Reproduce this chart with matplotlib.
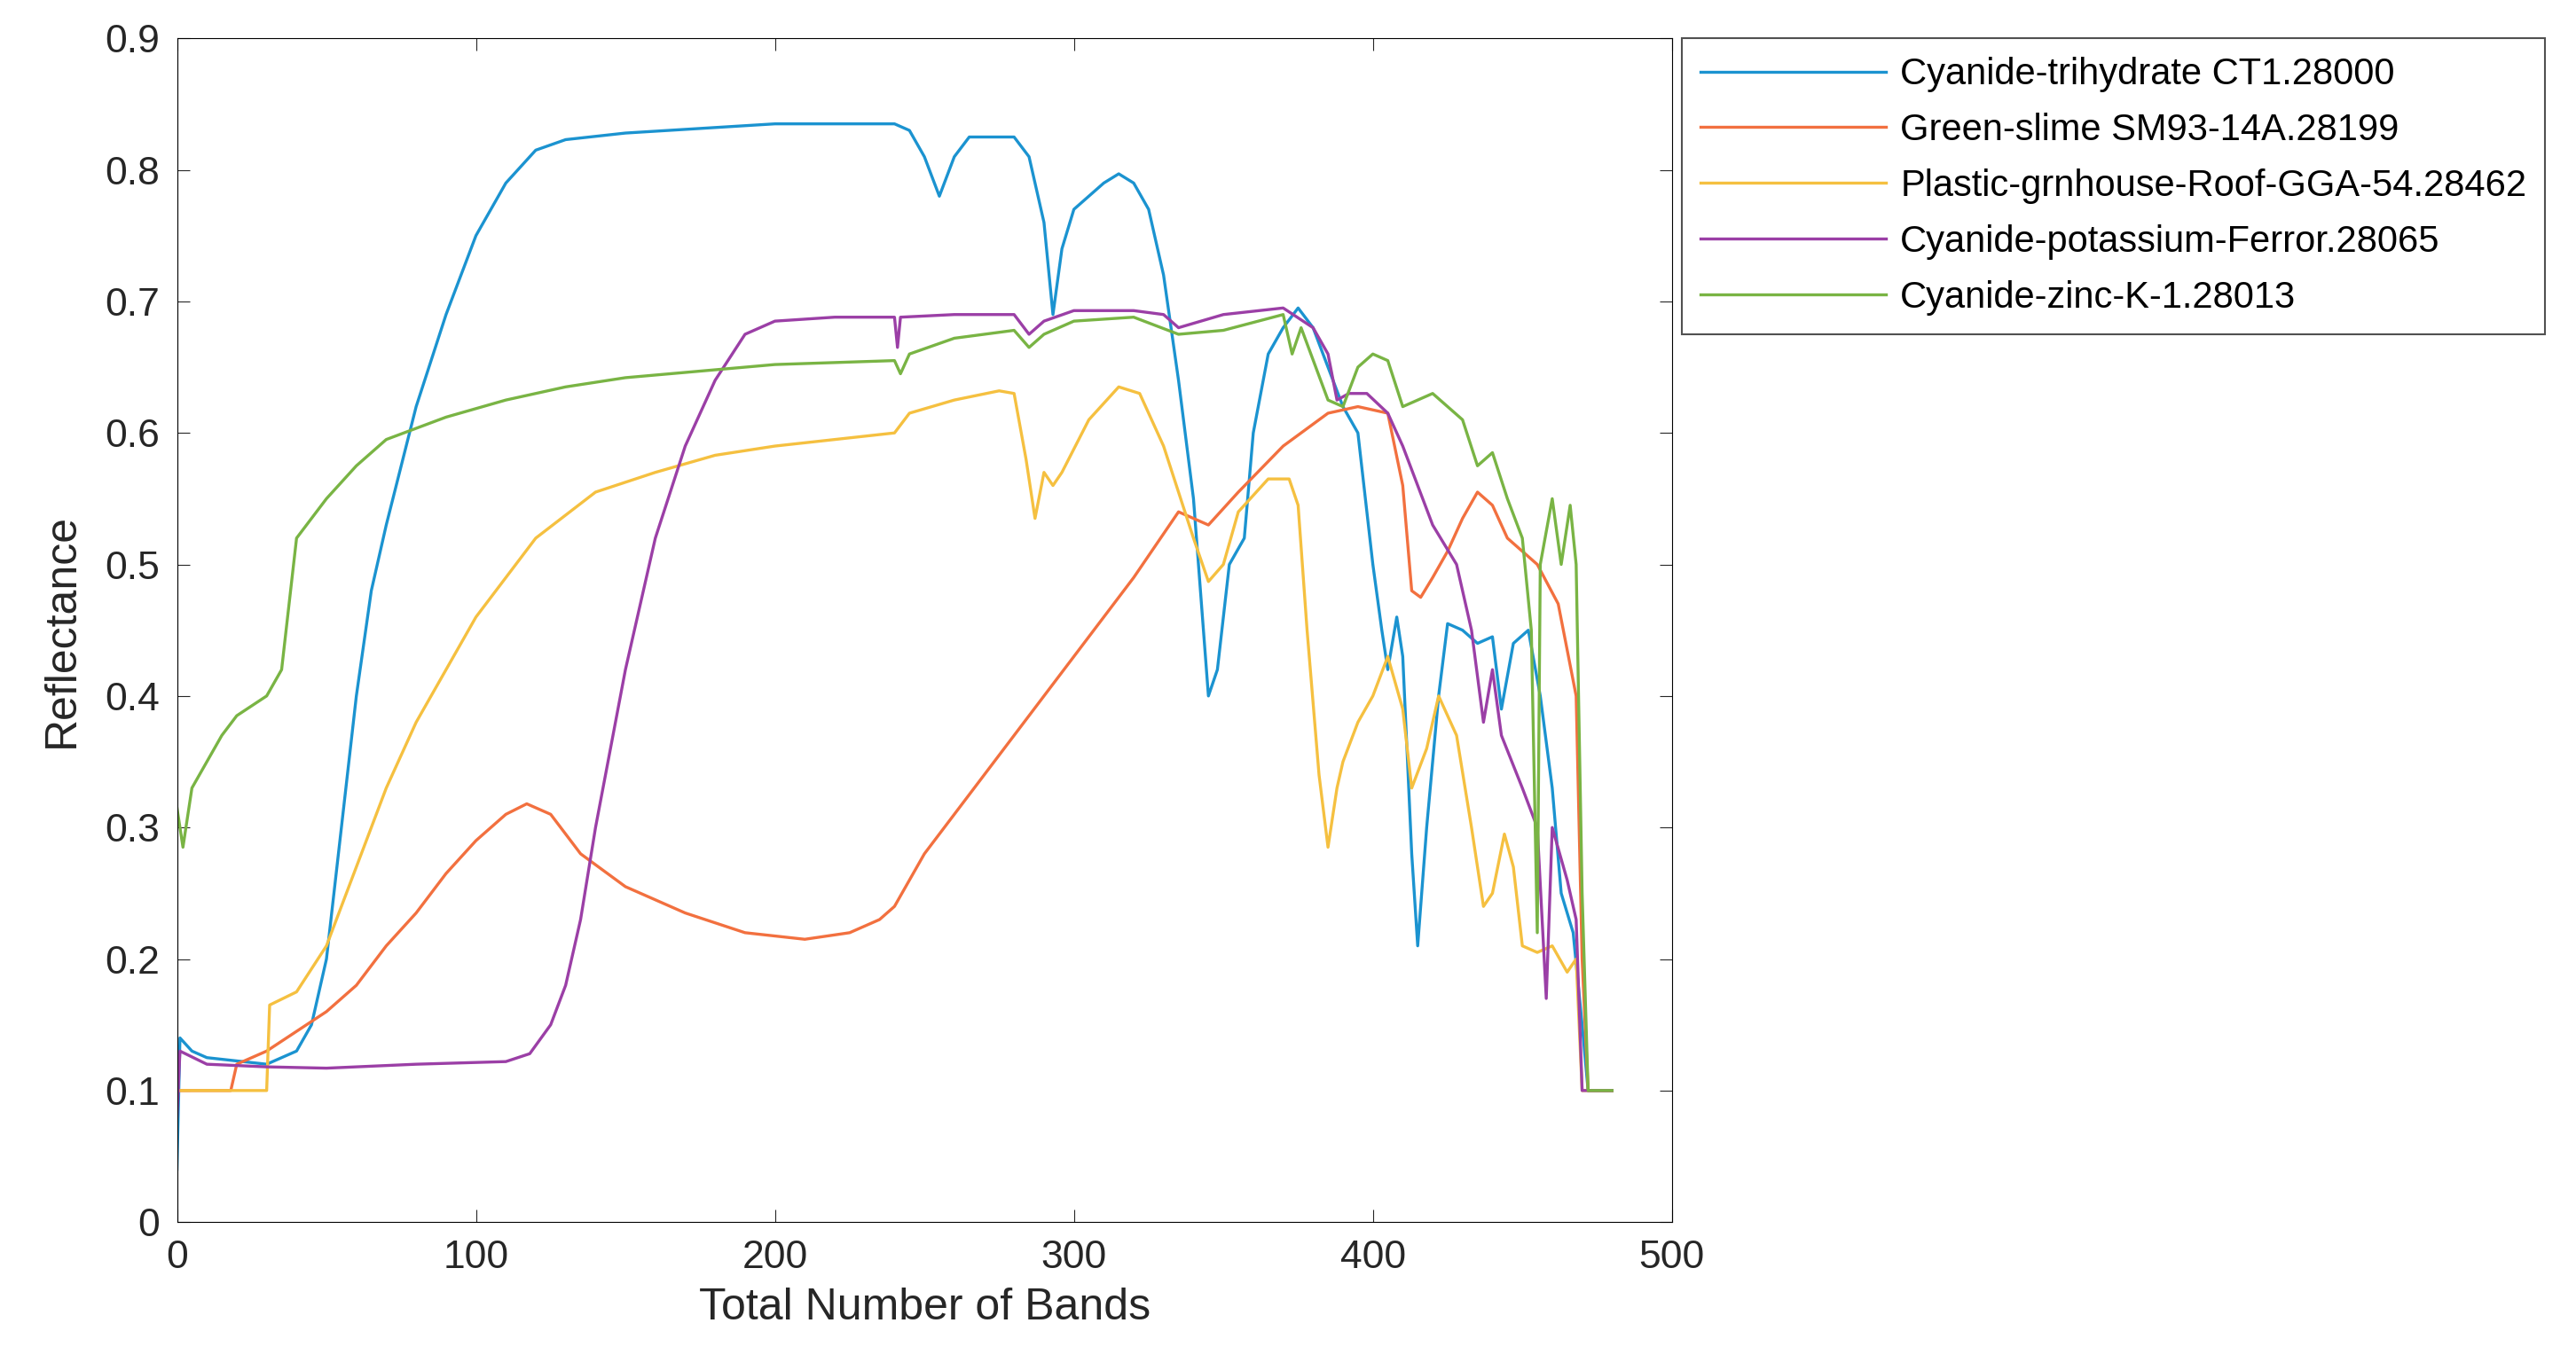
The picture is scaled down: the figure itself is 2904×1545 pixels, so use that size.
import matplotlib
matplotlib.use("Agg")
import matplotlib.pyplot as plt

plt.rcParams['font.family'] = ['Liberation Sans', 'DejaVu Sans']

names = ["Cyanide-trihydrate CT1.28000", "Green-slime SM93-14A.28199",
         "Plastic-grnhouse-Roof-GGA-54.28462", "Cyanide-potassium-Ferror.28065",
         "Cyanide-zinc-K-1.28013"]
colors = ['#1b93d0', '#f2703f', '#f5c040', '#9b3fa6', '#79b444']

blue_x = [0,1,5,10,30,40,45,50,55,60,65,70,80,90,100,110,120,130,150,200,240,245,250,255,260,265,280,285,290,293,296,300,310,315,320,325,330,335,340,345,348,352,357,360,365,370,375,380,385,390,395,400,403,405,408,410,413,415,418,422,425,430,435,440,443,447,452,456,460,463,467,470,472,480]
blue_y = [0.04,0.14,0.13,0.125,0.12,0.13,0.15,0.2,0.3,0.4,0.48,0.53,0.62,0.69,0.75,0.79,0.815,0.823,0.828,0.835,0.835,0.83,0.81,0.78,0.81,0.825,0.825,0.81,0.76,0.69,0.74,0.77,0.79,0.797,0.79,0.77,0.72,0.64,0.55,0.40,0.42,0.5,0.52,0.6,0.66,0.68,0.695,0.68,0.65,0.62,0.6,0.5,0.45,0.42,0.46,0.43,0.28,0.21,0.3,0.4,0.455,0.45,0.44,0.445,0.39,0.44,0.45,0.40,0.33,0.25,0.22,0.15,0.1,0.1]

red_x = [0,18,20,30,40,50,60,70,80,90,100,110,117,125,135,150,170,190,210,225,235,240,250,260,280,300,320,335,340,345,355,370,385,395,405,410,413,416,420,425,430,435,440,445,455,462,468,470,472,480]
red_y = [0.1,0.1,0.12,0.13,0.145,0.16,0.18,0.21,0.235,0.265,0.29,0.31,0.318,0.31,0.28,0.255,0.235,0.22,0.215,0.22,0.23,0.24,0.28,0.31,0.37,0.43,0.49,0.54,0.535,0.53,0.555,0.59,0.615,0.62,0.615,0.56,0.48,0.475,0.49,0.51,0.535,0.555,0.545,0.52,0.5,0.47,0.4,0.2,0.1,0.1]

yel_x = [0,30,31,40,50,60,70,80,90,100,120,140,160,180,200,220,240,245,260,275,280,284,287,290,293,296,305,315,322,330,340,345,350,355,365,372,375,378,382,385,388,390,395,400,405,410,413,418,422,428,433,437,440,444,447,450,455,460,465,468,470,480]
yel_y = [0.1,0.1,0.165,0.175,0.21,0.27,0.33,0.38,0.42,0.46,0.52,0.555,0.57,0.583,0.59,0.595,0.6,0.615,0.625,0.632,0.63,0.58,0.535,0.57,0.56,0.57,0.61,0.635,0.63,0.59,0.52,0.487,0.5,0.54,0.565,0.565,0.545,0.45,0.34,0.285,0.33,0.35,0.38,0.4,0.43,0.39,0.33,0.36,0.4,0.37,0.3,0.24,0.25,0.295,0.27,0.21,0.205,0.21,0.19,0.2,0.1,0.1]

pur_x = [0,1,10,30,50,80,110,118,125,130,135,140,150,160,170,180,190,200,220,240,241,242,260,280,285,290,300,320,330,335,350,370,380,385,388,392,398,405,410,415,420,428,433,437,440,443,450,455,458,460,465,468,470,480]
pur_y = [0.08,0.13,0.12,0.118,0.117,0.12,0.122,0.128,0.15,0.18,0.23,0.3,0.42,0.52,0.59,0.64,0.675,0.685,0.688,0.688,0.665,0.688,0.69,0.69,0.675,0.685,0.693,0.693,0.69,0.68,0.69,0.695,0.68,0.66,0.625,0.63,0.63,0.615,0.59,0.56,0.53,0.5,0.45,0.38,0.42,0.37,0.33,0.3,0.17,0.3,0.26,0.23,0.1,0.1]

grn_x = [0,2,5,10,15,20,30,35,38,40,45,50,60,70,90,110,130,150,180,200,240,242,245,260,280,285,290,300,320,335,350,370,373,376,385,390,395,400,405,410,420,430,435,440,445,450,453,455,456,460,463,466,468,470,472,480]
grn_y = [0.315,0.285,0.33,0.35,0.37,0.385,0.4,0.42,0.48,0.52,0.535,0.55,0.575,0.595,0.612,0.625,0.635,0.642,0.648,0.652,0.655,0.645,0.66,0.672,0.678,0.665,0.675,0.685,0.688,0.675,0.678,0.69,0.66,0.68,0.625,0.62,0.65,0.66,0.655,0.62,0.63,0.61,0.575,0.585,0.55,0.52,0.45,0.22,0.5,0.55,0.5,0.545,0.5,0.25,0.1,0.1]

series = [(blue_x, blue_y), (red_x, red_y), (yel_x, yel_y), (pur_x, pur_y), (grn_x, grn_y)]

fig = plt.figure(figsize=(29.04, 15.45), dpi=100)
ax = fig.add_axes([0.0687, 0.108, 0.5803, 0.864])
for (x, y), c, n in zip(series, colors, names):
    ax.plot(x, y, color=c, lw=2.4, label=n)
ax.set_xlim(0, 500)
ax.set_ylim(0, 0.9)
ax.set_xticks([0, 100, 200, 300, 400, 500])
ax.set_yticks([0, 0.1, 0.2, 0.3, 0.4, 0.5, 0.6, 0.7, 0.8, 0.9])
ax.set_yticklabels(['0', '0.1', '0.2', '0.3', '0.4', '0.5', '0.6', '0.7', '0.8', '0.9'])
ax.tick_params(labelsize=32, direction='in', length=10, pad=14, top=True, right=True, colors='#262626')
ax.set_xlabel('Total Number of Bands', fontsize=36, color='#262626', labelpad=10)
ax.set_ylabel('Reflectance', fontsize=36, color='#262626', labelpad=18)
leg = ax.legend(loc='upper left', bbox_to_anchor=(1.007, 1.0), fontsize=30, frameon=True,
                fancybox=False, edgecolor='#262626', handlelength=5.0, handletextpad=0.4,
                borderaxespad=0, labelspacing=0.55, borderpad=0.5)
leg.get_frame().set_linewidth(1.5)
fig.savefig('out.png', dpi=100)
